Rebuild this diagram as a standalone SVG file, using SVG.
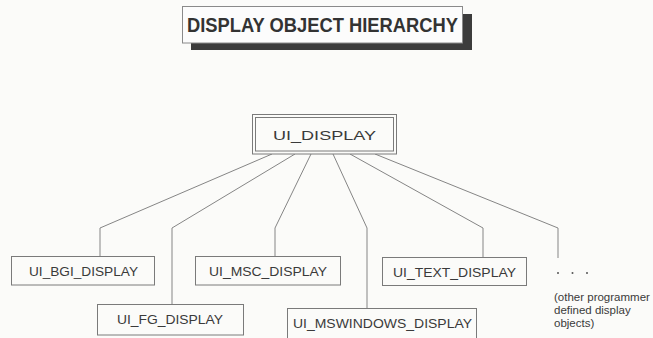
<svg xmlns="http://www.w3.org/2000/svg" width="653" height="338" viewBox="0 0 653 338">
<style>
.bg{fill:#fbfbf9}
.box{fill:#fbfbf9;stroke:#7a7a7a;stroke-width:1}
.lbl{font-family:"Liberation Sans",Arial,sans-serif;font-size:13.5px;fill:#3a3a3a;text-anchor:middle}
.conn{fill:none;stroke:#858585;stroke-width:1}
.note{font-family:"Liberation Sans",Arial,sans-serif;font-size:11.5px;fill:#3a3a3a}
</style>
<rect class="bg" x="0" y="0" width="653" height="338"/>
<g id="title">
<rect x="191" y="14" width="281" height="36" fill="#3c3c3c"/>
<rect x="182.5" y="6.5" width="280" height="36.5" fill="#fcfcfc" stroke="#8a8a8a"/>
<text x="322.5" y="32" font-family="'Liberation Sans',Arial,sans-serif" font-weight="bold" font-size="20" fill="#333" text-anchor="middle" textLength="271" lengthAdjust="spacingAndGlyphs">DISPLAY OBJECT HIERARCHY</text>
</g>
<g id="connectors">
<polyline class="conn" points="272,154 100,228 100,256"/>
<polyline class="conn" points="295,154 172,228 172,304"/>
<polyline class="conn" points="311,154 275,228 275,256"/>
<polyline class="conn" points="333,154 367,228 367,308"/>
<polyline class="conn" points="350,154 483,228 483,257"/>
<polyline class="conn" points="375,154 558,228 558,258"/>
</g>
<g id="ui_display">
<rect class="box" x="252.5" y="114.5" width="144" height="39.5"/>
<rect class="box" x="255.5" y="117.5" width="138" height="33.5"/>
<text class="lbl" x="324.5" y="140" font-size="17.5" textLength="103" lengthAdjust="spacingAndGlyphs">UI_DISPLAY</text>
</g>
<g id="ui_bgi_display">
<rect class="box" x="11.5" y="256.5" width="143" height="28.5"/>
<text class="lbl" x="83.5" y="275.5" textLength="109" lengthAdjust="spacingAndGlyphs">UI_BGI_DISPLAY</text>
</g>
<g id="ui_fg_display">
<rect class="box" x="97.5" y="304.5" width="146" height="30.5"/>
<text class="lbl" x="170" y="324" textLength="106" lengthAdjust="spacingAndGlyphs">UI_FG_DISPLAY</text>
</g>
<g id="ui_msc_display">
<rect class="box" x="195.5" y="256.5" width="145" height="28.5"/>
<text class="lbl" x="268" y="275.5" textLength="118" lengthAdjust="spacingAndGlyphs">UI_MSC_DISPLAY</text>
</g>
<g id="ui_mswindows_display">
<rect class="box" x="287.5" y="308.5" width="189" height="32"/>
<text class="lbl" x="382.5" y="328" textLength="179" lengthAdjust="spacingAndGlyphs">UI_MSWINDOWS_DISPLAY</text>
</g>
<g id="ui_text_display">
<rect class="box" x="382.5" y="257.5" width="144" height="28"/>
<text class="lbl" x="454.5" y="276.5" textLength="123" lengthAdjust="spacingAndGlyphs">UI_TEXT_DISPLAY</text>
</g>
<g id="other_objects">
<circle cx="558" cy="273" r="1" fill="#555"/>
<circle cx="572.5" cy="273" r="1" fill="#555"/>
<circle cx="587" cy="273" r="1" fill="#555"/>
<text class="note" x="554" y="301">(other programmer</text>
<text class="note" x="554" y="314">defined display</text>
<text class="note" x="554" y="327">objects)</text>
</g>
</svg>
